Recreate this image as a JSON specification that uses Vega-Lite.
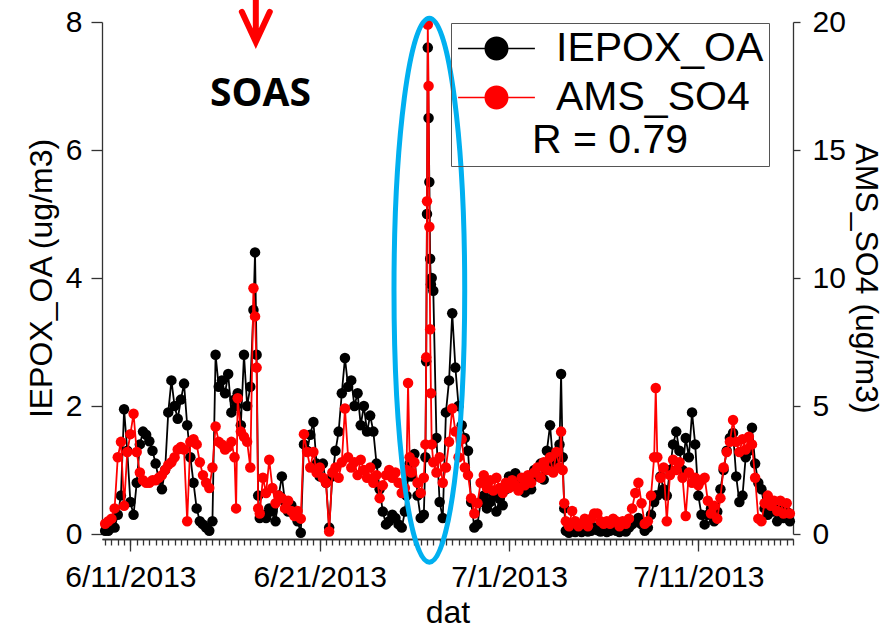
{
  "$schema": "https://vega.github.io/schema/vega-lite/v6.json",
  "width": 691,
  "height": 512,
  "autosize": {"type": "none"},
  "padding": {"left": 102, "top": 22, "right": 92, "bottom": 96},
  "background": "white",
  "config": {
    "view": {"stroke": null},
    "font": "Liberation Sans",
    "axis": {
      "domainColor": "#333333",
      "tickColor": "#333333",
      "domainWidth": 1.3,
      "tickWidth": 1.3,
      "labelColor": "black",
      "titleColor": "black",
      "labelFont": "Liberation Sans",
      "titleFont": "Liberation Sans",
      "titleFontWeight": "normal",
      "grid": false
    }
  },
  "datasets": {
    "obs": [
      {"t":"2013-06-09T16:00","a":0.05,"b":0.4},
      {"t":"2013-06-09T20:00","a":0.05,"b":0.5},
      {"t":"2013-06-10T00:00","a":0.1,"b":0.6},
      {"t":"2013-06-10T04:00","a":0.1,"b":1.0},
      {"t":"2013-06-10T08:00","a":0.3,"b":3.0},
      {"t":"2013-06-10T12:00","a":0.6,"b":3.6},
      {"t":"2013-06-10T16:00","a":1.95,"b":1.1},
      {"t":"2013-06-10T20:00","a":1.3,"b":3.2},
      {"t":"2013-06-11T00:00","a":0.5,"b":3.9},
      {"t":"2013-06-11T04:00","a":0.3,"b":4.7},
      {"t":"2013-06-11T08:00","a":0.8,"b":3.2},
      {"t":"2013-06-11T12:00","a":1.4,"b":2.4},
      {"t":"2013-06-11T16:00","a":1.6,"b":2.1},
      {"t":"2013-06-11T20:00","a":1.55,"b":2.0},
      {"t":"2013-06-12T00:00","a":1.45,"b":2.0},
      {"t":"2013-06-12T04:00","a":1.3,"b":2.1},
      {"t":"2013-06-12T08:00","a":1.1,"b":2.1},
      {"t":"2013-06-12T12:00","a":0.85,"b":2.2},
      {"t":"2013-06-12T16:00","a":0.7,"b":2.3},
      {"t":"2013-06-12T20:00","a":1.0,"b":2.5},
      {"t":"2013-06-13T00:00","a":1.9,"b":2.7},
      {"t":"2013-06-13T04:00","a":2.4,"b":2.8},
      {"t":"2013-06-13T08:00","a":2.0,"b":3.0},
      {"t":"2013-06-13T12:00","a":1.8,"b":3.3},
      {"t":"2013-06-13T16:00","a":2.1,"b":3.4},
      {"t":"2013-06-13T20:00","a":2.35,"b":3.3},
      {"t":"2013-06-14T00:00","a":1.7,"b":0.5},
      {"t":"2013-06-14T04:00","a":1.2,"b":3.6},
      {"t":"2013-06-14T08:00","a":0.8,"b":3.7},
      {"t":"2013-06-14T12:00","a":0.4,"b":3.5},
      {"t":"2013-06-14T16:00","a":0.2,"b":2.8},
      {"t":"2013-06-14T20:00","a":0.15,"b":2.3},
      {"t":"2013-06-15T00:00","a":0.1,"b":2.0},
      {"t":"2013-06-15T04:00","a":0.05,"b":1.8},
      {"t":"2013-06-15T08:00","a":0.2,"b":2.6},
      {"t":"2013-06-15T12:00","a":2.8,"b":4.2},
      {"t":"2013-06-15T16:00","a":2.3,"b":3.6},
      {"t":"2013-06-15T20:00","a":2.4,"b":3.5},
      {"t":"2013-06-16T00:00","a":2.2,"b":3.3},
      {"t":"2013-06-16T04:00","a":2.5,"b":3.4},
      {"t":"2013-06-16T08:00","a":1.9,"b":3.6},
      {"t":"2013-06-16T12:00","a":2.1,"b":3.0},
      {"t":"2013-06-16T14:00","a":2.0,"b":1.0},
      {"t":"2013-06-16T16:00","a":2.2,"b":5.3},
      {"t":"2013-06-16T20:00","a":1.7,"b":4.0},
      {"t":"2013-06-17T00:00","a":2.8,"b":3.8},
      {"t":"2013-06-17T04:00","a":2.0,"b":3.6},
      {"t":"2013-06-17T08:00","a":2.3,"b":2.6},
      {"t":"2013-06-17T12:00","a":3.5,"b":9.6},
      {"t":"2013-06-17T14:00","a":4.4,"b":8.5},
      {"t":"2013-06-17T16:00","a":2.8,"b":6.5},
      {"t":"2013-06-17T18:00","a":0.6,"b":1.0},
      {"t":"2013-06-17T20:00","a":0.25,"b":0.8},
      {"t":"2013-06-18T00:00","a":0.3,"b":2.2},
      {"t":"2013-06-18T04:00","a":0.25,"b":1.6},
      {"t":"2013-06-18T08:00","a":0.4,"b":2.9},
      {"t":"2013-06-18T12:00","a":0.35,"b":1.8},
      {"t":"2013-06-18T16:00","a":0.2,"b":1.2},
      {"t":"2013-06-18T20:00","a":0.6,"b":1.5},
      {"t":"2013-06-19T00:00","a":0.9,"b":1.4},
      {"t":"2013-06-19T04:00","a":0.5,"b":1.0},
      {"t":"2013-06-19T08:00","a":0.35,"b":1.3},
      {"t":"2013-06-19T12:00","a":0.45,"b":0.9},
      {"t":"2013-06-19T16:00","a":0.3,"b":0.7},
      {"t":"2013-06-19T20:00","a":0.2,"b":0.9},
      {"t":"2013-06-20T00:00","a":0.02,"b":0.6},
      {"t":"2013-06-20T04:00","a":1.4,"b":3.9},
      {"t":"2013-06-20T08:00","a":1.3,"b":3.2},
      {"t":"2013-06-20T12:00","a":1.55,"b":2.6},
      {"t":"2013-06-20T16:00","a":1.75,"b":3.2},
      {"t":"2013-06-20T20:00","a":1.1,"b":2.4},
      {"t":"2013-06-21T00:00","a":0.9,"b":2.6},
      {"t":"2013-06-21T04:00","a":1.1,"b":2.2},
      {"t":"2013-06-21T08:00","a":0.8,"b":2.0},
      {"t":"2013-06-21T12:00","a":0.1,"b":0.1},
      {"t":"2013-06-21T16:00","a":0.9,"b":2.4},
      {"t":"2013-06-21T20:00","a":1.3,"b":2.6},
      {"t":"2013-06-22T00:00","a":1.6,"b":2.2},
      {"t":"2013-06-22T04:00","a":2.2,"b":2.8},
      {"t":"2013-06-22T08:00","a":2.75,"b":4.9},
      {"t":"2013-06-22T12:00","a":2.3,"b":3.0},
      {"t":"2013-06-22T16:00","a":2.4,"b":2.6},
      {"t":"2013-06-22T20:00","a":2.0,"b":2.8},
      {"t":"2013-06-23T00:00","a":2.2,"b":2.3},
      {"t":"2013-06-23T04:00","a":1.7,"b":2.9},
      {"t":"2013-06-23T08:00","a":2.0,"b":2.5},
      {"t":"2013-06-23T12:00","a":1.6,"b":2.2},
      {"t":"2013-06-23T16:00","a":1.85,"b":2.6},
      {"t":"2013-06-23T20:00","a":1.6,"b":2.0},
      {"t":"2013-06-24T00:00","a":1.1,"b":2.3},
      {"t":"2013-06-24T04:00","a":0.7,"b":1.4},
      {"t":"2013-06-24T08:00","a":0.35,"b":1.9},
      {"t":"2013-06-24T12:00","a":0.15,"b":2.3},
      {"t":"2013-06-24T16:00","a":0.2,"b":2.5},
      {"t":"2013-06-24T20:00","a":0.3,"b":2.2},
      {"t":"2013-06-25T00:00","a":0.25,"b":2.4},
      {"t":"2013-06-25T04:00","a":0.15,"b":2.0},
      {"t":"2013-06-25T08:00","a":0.1,"b":1.6},
      {"t":"2013-06-25T12:00","a":0.35,"b":1.8},
      {"t":"2013-06-25T14:00","a":0.6,"b":2.5},
      {"t":"2013-06-25T16:00","a":0.9,"b":5.9},
      {"t":"2013-06-25T18:00","a":1.1,"b":3.0},
      {"t":"2013-06-25T20:00","a":0.9,"b":2.4},
      {"t":"2013-06-26T00:00","a":1.25,"b":2.8},
      {"t":"2013-06-26T04:00","a":0.6,"b":2.0},
      {"t":"2013-06-26T08:00","a":0.25,"b":1.6},
      {"t":"2013-06-26T12:00","a":0.3,"b":2.2},
      {"t":"2013-06-26T14:00","a":1.2,"b":3.5},
      {"t":"2013-06-26T15:00","a":2.7,"b":6.9},
      {"t":"2013-06-26T16:00","a":5.0,"b":13.0},
      {"t":"2013-06-26T17:00","a":7.6,"b":19.9},
      {"t":"2013-06-26T18:00","a":6.5,"b":17.5},
      {"t":"2013-06-26T19:00","a":5.5,"b":12.0},
      {"t":"2013-06-26T20:00","a":4.3,"b":8.0},
      {"t":"2013-06-26T21:00","a":3.9,"b":5.5},
      {"t":"2013-06-26T22:00","a":4.0,"b":3.5},
      {"t":"2013-06-27T00:00","a":3.8,"b":2.8},
      {"t":"2013-06-27T04:00","a":1.5,"b":2.4},
      {"t":"2013-06-27T08:00","a":0.5,"b":3.0},
      {"t":"2013-06-27T12:00","a":0.25,"b":2.0},
      {"t":"2013-06-27T16:00","a":1.9,"b":2.6},
      {"t":"2013-06-27T20:00","a":2.4,"b":3.6},
      {"t":"2013-06-28T00:00","a":3.45,"b":4.9},
      {"t":"2013-06-28T04:00","a":2.6,"b":4.0},
      {"t":"2013-06-28T08:00","a":2.0,"b":3.0},
      {"t":"2013-06-28T12:00","a":1.7,"b":3.7},
      {"t":"2013-06-28T16:00","a":1.5,"b":2.6},
      {"t":"2013-06-28T20:00","a":1.3,"b":2.3},
      {"t":"2013-06-29T00:00","a":0.5,"b":1.4},
      {"t":"2013-06-29T04:00","a":0.1,"b":0.8},
      {"t":"2013-06-29T08:00","a":0.15,"b":1.2},
      {"t":"2013-06-29T12:00","a":0.5,"b":2.0},
      {"t":"2013-06-29T16:00","a":0.6,"b":2.3},
      {"t":"2013-06-29T20:00","a":0.4,"b":1.8},
      {"t":"2013-06-30T00:00","a":0.5,"b":2.1},
      {"t":"2013-06-30T04:00","a":0.6,"b":1.7},
      {"t":"2013-06-30T08:00","a":0.35,"b":2.2},
      {"t":"2013-06-30T12:00","a":0.55,"b":1.8},
      {"t":"2013-06-30T16:00","a":0.45,"b":1.6},
      {"t":"2013-06-30T20:00","a":0.7,"b":2.0},
      {"t":"2013-07-01T00:00","a":0.9,"b":1.8},
      {"t":"2013-07-01T04:00","a":0.75,"b":2.1},
      {"t":"2013-07-01T08:00","a":0.95,"b":1.9},
      {"t":"2013-07-01T12:00","a":0.7,"b":1.7},
      {"t":"2013-07-01T16:00","a":0.85,"b":2.2},
      {"t":"2013-07-01T20:00","a":0.65,"b":1.9},
      {"t":"2013-07-02T00:00","a":0.9,"b":2.3},
      {"t":"2013-07-02T04:00","a":0.7,"b":2.0},
      {"t":"2013-07-02T08:00","a":1.0,"b":2.4},
      {"t":"2013-07-02T12:00","a":0.9,"b":2.6},
      {"t":"2013-07-02T16:00","a":1.1,"b":2.2},
      {"t":"2013-07-02T20:00","a":0.85,"b":2.8},
      {"t":"2013-07-03T00:00","a":1.3,"b":2.5},
      {"t":"2013-07-03T04:00","a":1.7,"b":3.0},
      {"t":"2013-07-03T08:00","a":1.1,"b":2.4},
      {"t":"2013-07-03T12:00","a":1.2,"b":3.2},
      {"t":"2013-07-03T16:00","a":1.4,"b":2.6},
      {"t":"2013-07-03T18:00","a":2.5,"b":4.0},
      {"t":"2013-07-03T20:00","a":1.2,"b":2.5},
      {"t":"2013-07-03T22:00","a":0.4,"b":1.2},
      {"t":"2013-07-04T00:00","a":0.05,"b":0.5},
      {"t":"2013-07-04T04:00","a":0.02,"b":0.3},
      {"t":"2013-07-04T08:00","a":0.05,"b":0.9},
      {"t":"2013-07-04T12:00","a":0.03,"b":0.5},
      {"t":"2013-07-04T16:00","a":0.05,"b":0.3},
      {"t":"2013-07-04T20:00","a":0.03,"b":0.4},
      {"t":"2013-07-05T00:00","a":0.05,"b":0.6},
      {"t":"2013-07-05T04:00","a":0.04,"b":0.3},
      {"t":"2013-07-05T08:00","a":0.05,"b":0.6},
      {"t":"2013-07-05T12:00","a":0.1,"b":0.8},
      {"t":"2013-07-05T16:00","a":0.06,"b":0.8},
      {"t":"2013-07-05T20:00","a":0.04,"b":0.5},
      {"t":"2013-07-06T00:00","a":0.05,"b":0.4},
      {"t":"2013-07-06T04:00","a":0.03,"b":0.5},
      {"t":"2013-07-06T08:00","a":0.05,"b":0.4},
      {"t":"2013-07-06T12:00","a":0.08,"b":0.6},
      {"t":"2013-07-06T16:00","a":0.05,"b":0.5},
      {"t":"2013-07-06T20:00","a":0.03,"b":0.3},
      {"t":"2013-07-07T00:00","a":0.05,"b":0.5},
      {"t":"2013-07-07T04:00","a":0.04,"b":0.4},
      {"t":"2013-07-07T08:00","a":0.1,"b":0.6},
      {"t":"2013-07-07T12:00","a":0.15,"b":1.0},
      {"t":"2013-07-07T16:00","a":0.2,"b":1.6},
      {"t":"2013-07-07T20:00","a":0.25,"b":2.0},
      {"t":"2013-07-08T00:00","a":0.15,"b":1.2},
      {"t":"2013-07-08T04:00","a":0.05,"b":0.4},
      {"t":"2013-07-08T08:00","a":0.1,"b":0.5},
      {"t":"2013-07-08T12:00","a":0.3,"b":1.5},
      {"t":"2013-07-08T16:00","a":0.5,"b":3.0},
      {"t":"2013-07-08T18:00","a":0.6,"b":5.7},
      {"t":"2013-07-08T20:00","a":0.6,"b":3.0},
      {"t":"2013-07-09T00:00","a":0.9,"b":2.2},
      {"t":"2013-07-09T04:00","a":0.7,"b":2.6},
      {"t":"2013-07-09T08:00","a":0.6,"b":0.5},
      {"t":"2013-07-09T12:00","a":1.0,"b":2.3},
      {"t":"2013-07-09T16:00","a":1.4,"b":2.9},
      {"t":"2013-07-09T20:00","a":1.6,"b":2.5},
      {"t":"2013-07-10T00:00","a":1.3,"b":2.8},
      {"t":"2013-07-10T04:00","a":1.0,"b":2.2},
      {"t":"2013-07-10T08:00","a":1.5,"b":0.7},
      {"t":"2013-07-10T12:00","a":1.2,"b":2.4},
      {"t":"2013-07-10T16:00","a":1.9,"b":2.0},
      {"t":"2013-07-10T20:00","a":1.4,"b":2.2},
      {"t":"2013-07-11T00:00","a":0.6,"b":1.9},
      {"t":"2013-07-11T04:00","a":0.3,"b":2.1},
      {"t":"2013-07-11T08:00","a":0.15,"b":2.2},
      {"t":"2013-07-11T12:00","a":0.3,"b":1.3},
      {"t":"2013-07-11T16:00","a":0.4,"b":0.8},
      {"t":"2013-07-11T20:00","a":0.2,"b":1.1},
      {"t":"2013-07-12T00:00","a":0.35,"b":0.6},
      {"t":"2013-07-12T04:00","a":0.7,"b":1.4},
      {"t":"2013-07-12T08:00","a":1.0,"b":2.6},
      {"t":"2013-07-12T12:00","a":1.3,"b":3.2},
      {"t":"2013-07-12T16:00","a":1.5,"b":3.6},
      {"t":"2013-07-12T20:00","a":1.58,"b":4.45},
      {"t":"2013-07-13T00:00","a":0.9,"b":3.6},
      {"t":"2013-07-13T04:00","a":0.5,"b":3.2},
      {"t":"2013-07-13T08:00","a":0.6,"b":3.7},
      {"t":"2013-07-13T12:00","a":1.2,"b":3.3},
      {"t":"2013-07-13T16:00","a":1.3,"b":3.8},
      {"t":"2013-07-13T20:00","a":1.66,"b":3.5},
      {"t":"2013-07-14T00:00","a":1.1,"b":2.2},
      {"t":"2013-07-14T04:00","a":0.8,"b":0.6},
      {"t":"2013-07-14T08:00","a":0.7,"b":0.5},
      {"t":"2013-07-14T12:00","a":0.4,"b":1.2},
      {"t":"2013-07-14T16:00","a":0.3,"b":1.5},
      {"t":"2013-07-14T20:00","a":0.45,"b":1.1},
      {"t":"2013-07-15T00:00","a":0.35,"b":1.3},
      {"t":"2013-07-15T04:00","a":0.2,"b":0.9},
      {"t":"2013-07-15T08:00","a":0.4,"b":1.3},
      {"t":"2013-07-15T12:00","a":0.25,"b":0.8},
      {"t":"2013-07-15T16:00","a":0.35,"b":1.2},
      {"t":"2013-07-15T20:00","a":0.2,"b":0.8}
    ]
  },
  "data": {"name": "obs"},
  "encoding": {
    "x": {
      "field": "t",
      "type": "temporal",
      "title": "dat",
      "scale": {
        "domain": [
          {"year": 2013, "month": 6, "date": 9, "hours": 12},
          {"year": 2013, "month": 7, "date": 16, "hours": 0}
        ]
      },
      "axis": {
        "orient": "bottom",
        "offset": 5,
        "values": [
          {"year": 2013, "month": 6, "date": 11},
          {"year": 2013, "month": 6, "date": 21},
          {"year": 2013, "month": 7, "date": 1},
          {"year": 2013, "month": 7, "date": 11}
        ],
        "format": "%-m/%-d/%Y",
        "tickSize": 12,
        "labelOverlap": false,
        "labelFlush": false,
        "labelFontSize": 30,
        "labelPadding": 11,
        "titleFontSize": 32,
        "titlePadding": 5
      }
    }
  },
  "layer": [
    {
      "layer": [
        {
          "mark": {"type": "line", "color": "black", "strokeWidth": 1.8},
          "encoding": {
            "y": {
              "field": "a",
              "type": "quantitative",
              "title": "IEPOX_OA (ug/m3)",
              "scale": {"domain": [0, 8], "nice": false},
              "axis": {
                "orient": "left",
                "values": [0, 2, 4, 6, 8],
                "format": "d",
                "tickSize": 11,
                "labelPadding": 9,
                "labelFontSize": 30,
                "titleFontSize": 32,
                "titlePadding": 7
              }
            }
          }
        },
        {
          "mark": {"type": "point", "filled": true, "opacity": 1, "size": 110},
          "encoding": {
            "y": {"field": "a", "type": "quantitative", "title": "IEPOX_OA (ug/m3)"},
            "color": {
              "datum": "IEPOX_OA",
              "type": "nominal",
              "scale": {"domain": ["IEPOX_OA", "AMS_SO4"], "range": ["#000000", "#FF0000"]},
              "legend": {
                "orient": "none",
                "legendX": 349,
                "legendY": 1,
                "title": "R = 0.79",
                "titleOrient": "bottom",
                "titleAnchor": "middle",
                "titleFont": "Liberation Sans",
                "titleFontSize": 41,
                "titleFontWeight": "normal",
                "titleColor": "black",
                "titlePadding": 3,
                "labelFont": "Liberation Sans",
                "labelFontSize": 41,
                "labelColor": "black",
                "labelLimit": 400,
                "labelOffset": 39,
                "symbolOffset": 20,
                "symbolSize": 576,
                "symbolStrokeWidth": 0,
                "symbolType": "M-3.2,-0.06H3.2V0.06H-3.2Z M1,0C1,0.5523 0.5523,1 0,1C-0.5523,1 -1,0.5523 -1,0C-1,-0.5523 -0.5523,-1 0,-1C0.5523,-1 1,-0.5523 1,0Z",
                "rowPadding": 7,
                "padding": 5,
                "strokeColor": "#555555"
              }
            }
          }
        }
      ]
    },
    {
      "encoding": {"x": {"field": "t", "type": "temporal", "axis": null}},
      "layer": [
        {
          "mark": {"type": "line", "color": "#FF0000", "strokeWidth": 1.8},
          "encoding": {
            "y": {
              "field": "b",
              "type": "quantitative",
              "title": "AMS_SO4 (ug/m3)",
              "scale": {"domain": [0, 20], "nice": false},
              "axis": {
                "orient": "right",
                "values": [0, 5, 10, 15, 20],
                "tickSize": 7,
                "labelPadding": 12,
                "labelFontSize": 30,
                "titleFontSize": 32,
                "titlePadding": 3
              }
            }
          }
        },
        {
          "mark": {"type": "point", "filled": true, "opacity": 1, "size": 110},
          "encoding": {
            "y": {"field": "b", "type": "quantitative", "title": "AMS_SO4 (ug/m3)"},
            "color": {
              "datum": "AMS_SO4",
              "type": "nominal",
              "scale": {"domain": ["IEPOX_OA", "AMS_SO4"], "range": ["#000000", "#FF0000"]}
            }
          }
        }
      ]
    },
    {
      "encoding": {
        "x": {
          "field": "t",
          "type": "temporal",
          "axis": {
            "orient": "bottom",
            "offset": 5,
            "title": null,
            "labels": false,
            "tickSize": 6,
            "values": [
              {"year":2013,"month":6,"date":9,"hours":16},
              {"year":2013,"month":6,"date":10,"hours":0},{"year":2013,"month":6,"date":10,"hours":8},{"year":2013,"month":6,"date":10,"hours":16},
              {"year":2013,"month":6,"date":11,"hours":0},{"year":2013,"month":6,"date":11,"hours":8},{"year":2013,"month":6,"date":11,"hours":16},
              {"year":2013,"month":6,"date":12,"hours":0},{"year":2013,"month":6,"date":12,"hours":8},{"year":2013,"month":6,"date":12,"hours":16},
              {"year":2013,"month":6,"date":13,"hours":0},{"year":2013,"month":6,"date":13,"hours":8},{"year":2013,"month":6,"date":13,"hours":16},
              {"year":2013,"month":6,"date":14,"hours":0},{"year":2013,"month":6,"date":14,"hours":8},{"year":2013,"month":6,"date":14,"hours":16},
              {"year":2013,"month":6,"date":15,"hours":0},{"year":2013,"month":6,"date":15,"hours":8},{"year":2013,"month":6,"date":15,"hours":16},
              {"year":2013,"month":6,"date":16,"hours":0},{"year":2013,"month":6,"date":16,"hours":8},{"year":2013,"month":6,"date":16,"hours":16},
              {"year":2013,"month":6,"date":17,"hours":0},{"year":2013,"month":6,"date":17,"hours":8},{"year":2013,"month":6,"date":17,"hours":16},
              {"year":2013,"month":6,"date":18,"hours":0},{"year":2013,"month":6,"date":18,"hours":8},{"year":2013,"month":6,"date":18,"hours":16},
              {"year":2013,"month":6,"date":19,"hours":0},{"year":2013,"month":6,"date":19,"hours":8},{"year":2013,"month":6,"date":19,"hours":16},
              {"year":2013,"month":6,"date":20,"hours":0},{"year":2013,"month":6,"date":20,"hours":8},{"year":2013,"month":6,"date":20,"hours":16},
              {"year":2013,"month":6,"date":21,"hours":0},{"year":2013,"month":6,"date":21,"hours":8},{"year":2013,"month":6,"date":21,"hours":16},
              {"year":2013,"month":6,"date":22,"hours":0},{"year":2013,"month":6,"date":22,"hours":8},{"year":2013,"month":6,"date":22,"hours":16},
              {"year":2013,"month":6,"date":23,"hours":0},{"year":2013,"month":6,"date":23,"hours":8},{"year":2013,"month":6,"date":23,"hours":16},
              {"year":2013,"month":6,"date":24,"hours":0},{"year":2013,"month":6,"date":24,"hours":8},{"year":2013,"month":6,"date":24,"hours":16},
              {"year":2013,"month":6,"date":25,"hours":0},{"year":2013,"month":6,"date":25,"hours":8},{"year":2013,"month":6,"date":25,"hours":16},
              {"year":2013,"month":6,"date":26,"hours":0},{"year":2013,"month":6,"date":26,"hours":8},{"year":2013,"month":6,"date":26,"hours":16},
              {"year":2013,"month":6,"date":27,"hours":0},{"year":2013,"month":6,"date":27,"hours":8},{"year":2013,"month":6,"date":27,"hours":16},
              {"year":2013,"month":6,"date":28,"hours":0},{"year":2013,"month":6,"date":28,"hours":8},{"year":2013,"month":6,"date":28,"hours":16},
              {"year":2013,"month":6,"date":29,"hours":0},{"year":2013,"month":6,"date":29,"hours":8},{"year":2013,"month":6,"date":29,"hours":16},
              {"year":2013,"month":6,"date":30,"hours":0},{"year":2013,"month":6,"date":30,"hours":8},{"year":2013,"month":6,"date":30,"hours":16},
              {"year":2013,"month":7,"date":1,"hours":0},{"year":2013,"month":7,"date":1,"hours":8},{"year":2013,"month":7,"date":1,"hours":16},
              {"year":2013,"month":7,"date":2,"hours":0},{"year":2013,"month":7,"date":2,"hours":8},{"year":2013,"month":7,"date":2,"hours":16},
              {"year":2013,"month":7,"date":3,"hours":0},{"year":2013,"month":7,"date":3,"hours":8},{"year":2013,"month":7,"date":3,"hours":16},
              {"year":2013,"month":7,"date":4,"hours":0},{"year":2013,"month":7,"date":4,"hours":8},{"year":2013,"month":7,"date":4,"hours":16},
              {"year":2013,"month":7,"date":5,"hours":0},{"year":2013,"month":7,"date":5,"hours":8},{"year":2013,"month":7,"date":5,"hours":16},
              {"year":2013,"month":7,"date":6,"hours":0},{"year":2013,"month":7,"date":6,"hours":8},{"year":2013,"month":7,"date":6,"hours":16},
              {"year":2013,"month":7,"date":7,"hours":0},{"year":2013,"month":7,"date":7,"hours":8},{"year":2013,"month":7,"date":7,"hours":16},
              {"year":2013,"month":7,"date":8,"hours":0},{"year":2013,"month":7,"date":8,"hours":8},{"year":2013,"month":7,"date":8,"hours":16},
              {"year":2013,"month":7,"date":9,"hours":0},{"year":2013,"month":7,"date":9,"hours":8},{"year":2013,"month":7,"date":9,"hours":16},
              {"year":2013,"month":7,"date":10,"hours":0},{"year":2013,"month":7,"date":10,"hours":8},{"year":2013,"month":7,"date":10,"hours":16},
              {"year":2013,"month":7,"date":11,"hours":0},{"year":2013,"month":7,"date":11,"hours":8},{"year":2013,"month":7,"date":11,"hours":16},
              {"year":2013,"month":7,"date":12,"hours":0},{"year":2013,"month":7,"date":12,"hours":8},{"year":2013,"month":7,"date":12,"hours":16},
              {"year":2013,"month":7,"date":13,"hours":0},{"year":2013,"month":7,"date":13,"hours":8},{"year":2013,"month":7,"date":13,"hours":16},
              {"year":2013,"month":7,"date":14,"hours":0},{"year":2013,"month":7,"date":14,"hours":8},{"year":2013,"month":7,"date":14,"hours":16},
              {"year":2013,"month":7,"date":15,"hours":0},{"year":2013,"month":7,"date":15,"hours":8},{"year":2013,"month":7,"date":15,"hours":16},
              {"year":2013,"month":7,"date":16,"hours":0}
            ]
          }
        }
      },
      "layer": [
        {
          "data": {"values": [{"t": "2013-06-17T21:00", "v": 6.88, "label": "SOAS"}]},
          "mark": {
            "type": "text",
            "font": "Open Sans",
            "fontWeight": "bold",
            "fontSize": 39,
            "align": "center",
            "baseline": "middle",
            "color": "black"
          },
          "encoding": {
            "y": {"field": "v", "type": "quantitative", "scale": {"domain": [0, 8], "nice": false}, "axis": null},
            "text": {"field": "label"}
          }
        },
        {
          "data": {"values": [{"t": "2013-06-17T15:00", "v": 7.69}]},
          "mark": {
            "type": "point",
            "filled": false,
            "opacity": 1,
            "color": "#FF0000",
            "strokeWidth": 6,
            "strokeCap": "round",
            "size": 7056,
            "shape": "M0,0L0,-1.3M-0.333,-0.714L0,0L0.333,-0.714"
          },
          "encoding": {
            "y": {"field": "v", "type": "quantitative", "axis": null}
          }
        },
        {
          "data": {"values": [{"t": "2013-06-26T19:00", "v": 3.81}]},
          "mark": {
            "type": "point",
            "filled": false,
            "opacity": 1,
            "color": "#00B0F0",
            "strokeWidth": 5,
            "size": 295936,
            "shape": "M0,-1C0.072,-1 0.13,-0.5523 0.13,0C0.13,0.5523 0.072,1 0,1C-0.072,1 -0.13,0.5523 -0.13,0C-0.13,-0.5523 -0.072,-1 0,-1Z"
          },
          "encoding": {
            "y": {"field": "v", "type": "quantitative", "axis": null}
          }
        }
      ]
    }
  ],
  "resolve": {"scale": {"y": "independent"}, "axis": {"x": "independent"}}
}
